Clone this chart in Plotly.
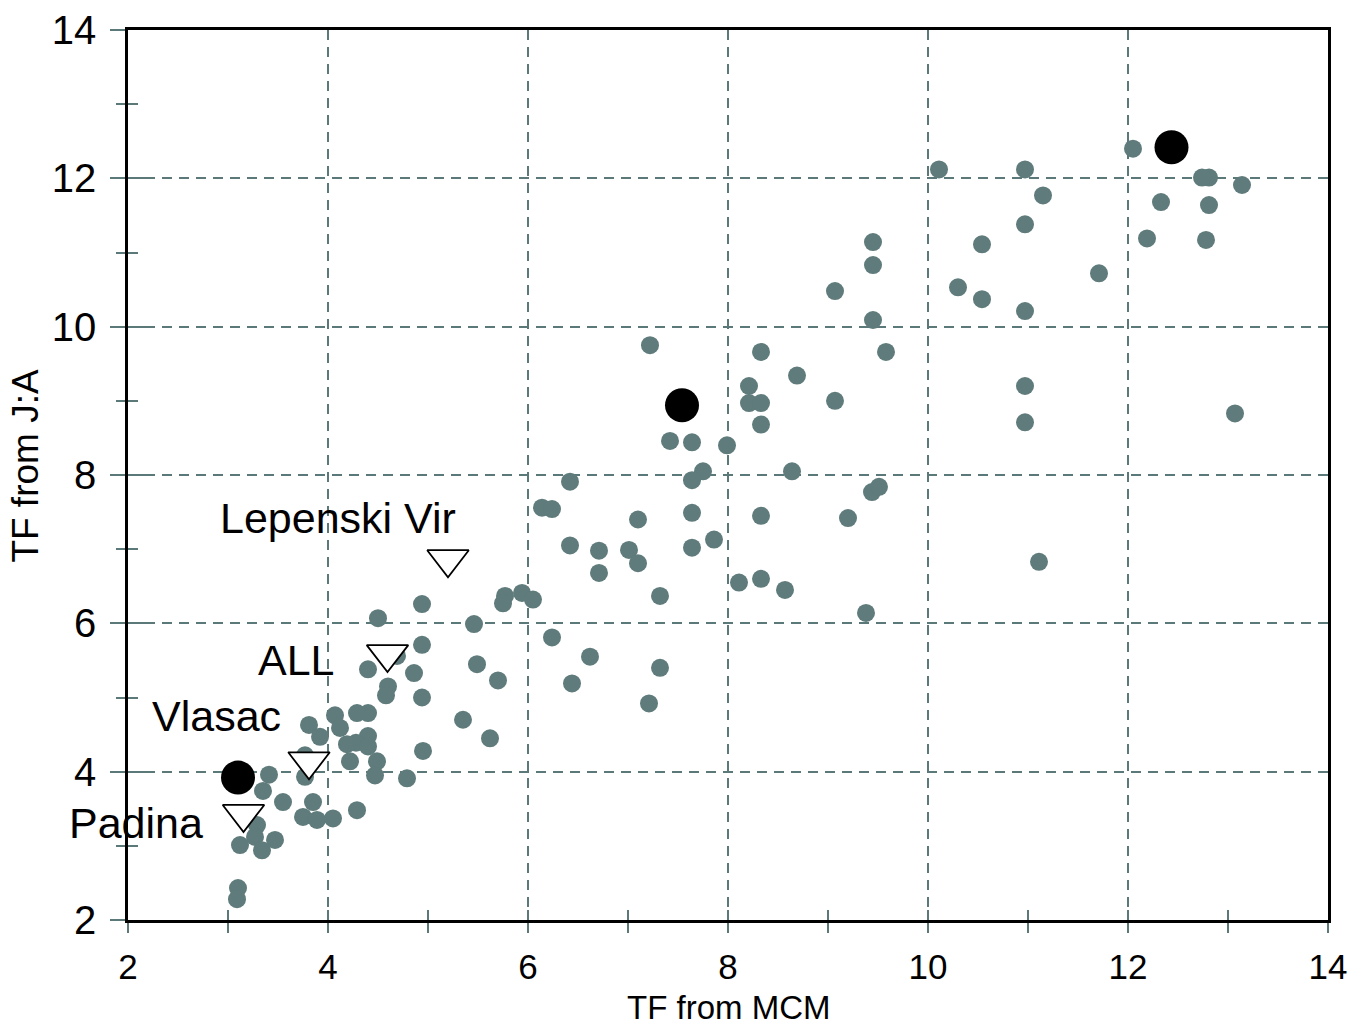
import plotly.graph_objects as go

# ---- data ----
gray_x = [4.94, 4.50, 4.94, 4.69, 4.40, 4.86, 4.60, 4.58, 4.94, 4.07,
          4.40, 4.29, 3.81, 4.12, 3.92, 4.40, 4.28, 4.19, 4.40, 4.95,
          3.77, 4.22, 4.49, 3.77, 4.47, 4.79, 3.41, 3.35, 3.55, 3.85,
          3.75, 3.89, 4.05, 4.29, 3.29, 3.27, 3.47, 3.12, 3.34, 3.10,
          3.09,
          7.42, 7.64, 7.99, 7.75, 7.64, 8.64, 6.42, 6.14, 6.24, 7.10,
          7.64, 8.33, 6.42, 6.71, 7.01, 7.10, 7.86, 7.64, 6.71, 7.32,
          8.11, 8.33, 8.57, 5.77, 5.75, 5.94, 6.05, 5.46, 6.24, 6.62,
          7.32, 6.44, 7.21, 5.49, 5.70, 5.35, 5.62,
          10.11, 9.45, 9.45, 9.07, 9.45, 7.22, 8.33, 9.58, 8.69, 8.21,
          8.21, 8.33, 9.07, 8.33,
          12.05, 10.97, 12.81, 12.74, 13.14, 11.15, 12.33, 12.81, 10.97, 10.54,
          12.19, 12.78, 11.71, 10.30, 10.54, 10.97, 10.97, 10.97, 13.07, 11.11,
          9.38, 9.20, 9.44, 9.51]
gray_y = [6.26, 6.07, 5.71, 5.56, 5.38, 5.33, 5.15, 5.03, 5.00, 4.76,
          4.79, 4.79, 4.63, 4.59, 4.47, 4.48, 4.39, 4.37, 4.34, 4.28,
          4.22, 4.14, 4.14, 3.93, 3.95, 3.91, 3.96, 3.74, 3.59, 3.59,
          3.39, 3.35, 3.37, 3.48, 3.28, 3.12, 3.08, 3.01, 2.94, 2.43,
          2.28,
          8.46, 8.44, 8.40, 8.05, 7.93, 8.05, 7.91, 7.56, 7.54, 7.40,
          7.49, 7.45, 7.05, 6.98, 6.99, 6.81, 7.13, 7.02, 6.68, 6.37,
          6.55, 6.60, 6.45, 6.37, 6.27, 6.41, 6.32, 5.99, 5.81, 5.55,
          5.40, 5.19, 4.92, 5.45, 5.23, 4.70, 4.45,
          12.12, 11.14, 10.83, 10.48, 10.09, 9.75, 9.66, 9.66, 9.34, 9.20,
          8.97, 8.97, 9.00, 8.68,
          12.40, 12.12, 12.01, 12.01, 11.91, 11.77, 11.68, 11.64, 11.38, 11.11,
          11.19, 11.17, 10.72, 10.53, 10.37, 10.21, 9.20, 8.71, 8.83, 6.83,
          6.14, 7.42, 7.77, 7.84]

black_x = [3.10, 7.54, 12.435]
black_y = [3.92, 8.94, 12.42]

site_names = ["Padina", "Vlasac", "ALL", "Lepenski Vir"]
site_x = [3.155, 3.81, 4.595, 5.20]
site_y = [3.43, 4.14, 5.585, 6.865]
label_x = [2.08, 2.88, 3.68, 4.095]
label_y = [3.31, 4.75, 5.50, 7.42]

x_title = "TF from MCM"
y_title = "TF from J:A"

TEAL = "#5c7979"
FONT = "Liberation Sans, Arial, Helvetica, sans-serif"

fig = go.Figure()
fig.add_trace(go.Scatter(
    x=gray_x, y=gray_y, mode="markers",
    marker=dict(symbol="circle", size=18, color="#5f7b7b", line=dict(width=0)),
    showlegend=False, hoverinfo="skip"))
fig.add_trace(go.Scatter(
    x=black_x, y=black_y, mode="markers",
    marker=dict(symbol="circle", size=34, color="black", line=dict(width=0)),
    showlegend=False, hoverinfo="skip"))
fig.add_trace(go.Scatter(
    x=site_x, y=site_y, mode="markers",
    marker=dict(symbol="triangle-down", size=36, color="white",
                line=dict(width=1.8, color="black")),
    showlegend=False, hoverinfo="skip"))
# invisible trace for overlay axes (inside ticks)
fig.add_trace(go.Scatter(x=[None], y=[None], xaxis="x2", yaxis="y2",
                         showlegend=False, hoverinfo="skip"))

for name, lx, ly in zip(site_names, label_x, label_y):
    fig.add_annotation(x=lx, y=ly, text=name, showarrow=False,
                       font=dict(family=FONT, size=43, color="black"),
                       xanchor="center", yanchor="middle")

# axis titles as annotations (positioned relative to the plot area)
fig.add_annotation(xref="paper", yref="paper", x=0.5, y=-0.098,
                   text=x_title, showarrow=False,
                   font=dict(family=FONT, size=33, color="black"),
                   xanchor="center", yanchor="middle", borderpad=0)
fig.add_annotation(xref="paper", yref="paper", x=-0.0855, y=0.511,
                   text=y_title, showarrow=False, textangle=-90,
                   font=dict(family=FONT, size=37, color="black"),
                   xanchor="center", yanchor="middle")

fig.update_layout(
    width=1360, height=1027,
    margin=dict(l=128, r=32, t=30, b=107, autoexpand=False),
    paper_bgcolor="white", plot_bgcolor="white",
    font=dict(family=FONT, color="black"),
    xaxis=dict(
        range=[2, 14], dtick=2, tick0=2, showgrid=True, gridcolor=TEAL,
        gridwidth=2, griddash="10px,7px", zeroline=False, automargin=False,
        showline=True, linecolor="black", linewidth=2.5, mirror=True,
        ticks="outside", ticklen=10, tickwidth=2, tickcolor=TEAL,
        minor=dict(dtick=1, tick0=1, ticks="outside", ticklen=10, tickwidth=2,
                   tickcolor=TEAL, showgrid=False),
        tickfont=dict(family=FONT, size=35, color="black"),
        ticklabelstandoff=4,
    ),
    yaxis=dict(
        range=[2, 14], dtick=2, tick0=2, showgrid=True, gridcolor=TEAL,
        gridwidth=2, griddash="10px,7px", zeroline=False, automargin=False,
        showline=True, linecolor="black", linewidth=2.5, mirror=True,
        ticks="outside", ticklen=15, tickwidth=2, tickcolor=TEAL,
        minor=dict(dtick=1, tick0=1, ticks="outside", ticklen=9, tickwidth=2,
                   tickcolor=TEAL, showgrid=False),
        tickfont=dict(family=FONT, size=40, color="black"),
        ticklabelstandoff=6,
    ),
    xaxis2=dict(
        overlaying="x", anchor="y2", side="bottom", range=[2, 14],
        dtick=2, tick0=2, showgrid=False, zeroline=False, showline=False,
        ticks="inside", ticklen=10, tickwidth=2, tickcolor=TEAL,
        minor=dict(dtick=1, tick0=1, ticks="inside", ticklen=10, tickwidth=2,
                   tickcolor=TEAL, showgrid=False),
        showticklabels=False, automargin=False,
    ),
    yaxis2=dict(
        overlaying="y", anchor="x2", side="left", range=[2, 14],
        dtick=2, tick0=2, showgrid=False, zeroline=False, showline=False,
        ticks="inside", ticklen=20, tickwidth=2, tickcolor=TEAL,
        minor=dict(dtick=1, tick0=1, ticks="inside", ticklen=10, tickwidth=2,
                   tickcolor=TEAL, showgrid=False),
        showticklabels=False, automargin=False,
    ),
)

fig.write_html("out.html")
